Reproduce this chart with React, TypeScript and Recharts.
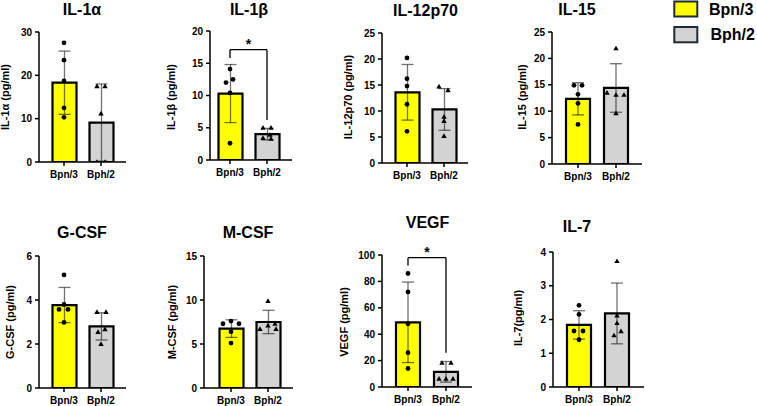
import React from 'react';
import { ComposedChart, Bar, Cell, ErrorBar, Scatter, XAxis, YAxis, ReferenceLine } from 'recharts';

// Groups shown on every x axis
const groups = ['Bpn/3', 'Bph/2'];

// IL-1α
const il1aMean = [18.3, 9.1];
const il1aSd = [7.3, 8.9];
const il1aBpn = [27.5, 23.5, 18.7, 12.5, 10.3];
const il1aBph = [17.5, 17.5, 11.2, 0, 0];
const il1aTicks = [0, 10, 20, 30];

// IL-1β
const il1bMean = [10.3, 4.0];
const il1bSd = [4.5, 0.9];
const il1bBpn = [14.1, 12.0, 12.5, 10.4, 2.6];
const il1bBph = [5.0, 5.0, 3.9, 3.4, 3.3];
const il1bTicks = [0, 5, 10, 15, 20];

// IL-12p70
const il12Mean = [13.6, 10.3];
const il12Sd = [5.35, 4.0];
const il12Bpn = [20.2, 16.2, 14.8, 11.3, 6.1];
const il12Bph = [14.7, 14.0, 8.9, 8.1, 5.2];
const il12Ticks = [0, 5, 10, 15, 20, 25];

// IL-15
const il15Mean = [12.35, 14.4];
const il15Sd = [3.05, 4.6];
const il15Bpn = [14.9, 14.9, 13.2, 11.5, 7.5];
const il15Bph = [21.9, 13.5, 13.1, 13.1, 9.6];
const il15Ticks = [0, 5, 10, 15, 20, 25];

// G-CSF
const gcsfMean = [3.77, 2.8];
const gcsfSd = [0.8, 0.62];
const gcsfBpn = [5.14, 3.8, 3.57, 3.57, 2.98];
const gcsfBph = [3.46, 3.46, 2.67, 2.55, 2.0];
const gcsfTicks = [0, 2, 4, 6];

// M-CSF
const mcsfMean = [6.75, 7.5];
const mcsfSd = [1.0, 1.33];
const mcsfBpn = [7.6, 7.3, 7.3, 6.4, 5.1];
const mcsfBph = [9.9, 7.3, 7.1, 6.7, 6.7];
const mcsfTicks = [0, 5, 10, 15];

// VEGF
const vegfMean = [49, 11.5];
const vegfSd = [30.5, 7.8];
const vegfBpn = [86, 72, 48, 26, 14];
const vegfBph = [18.3, 18.3, 6.3, 6.3, 6.3];
const vegfTicks = [0, 20, 40, 60, 80, 100];

// IL-7
const il7Mean = [1.84, 2.18];
const il7Sd = [0.42, 0.9];
const il7Bpn = [2.42, 2.15, 1.66, 1.66, 1.4];
const il7Bph = [3.73, 2.12, 1.9, 1.65, 1.53];
const il7Ticks = [0, 1, 2, 3, 4];

// Significance brackets: bracket height, end of left leg, end of right leg
const il1bBracket = { y: 17.1, left: 15.8, right: 6.2 };
const vegfBracket = { y: 98, left: 92, right: 26 };

type Bracket = { y: number; left: number; right: number };

interface PanelData {
  title: string;
  yLabel: string;
  ticks: number[];
  mean: number[];
  sd: number[];
  bpn: number[];
  bph: number[];
  bracket?: Bracket;
}

const panelData: PanelData[] = [
  { title: 'IL-1α', yLabel: 'IL-1α (pg/ml)', ticks: il1aTicks, mean: il1aMean, sd: il1aSd, bpn: il1aBpn, bph: il1aBph },
  { title: 'IL-1β', yLabel: 'IL-1β (pg/ml)', ticks: il1bTicks, mean: il1bMean, sd: il1bSd, bpn: il1bBpn, bph: il1bBph, bracket: il1bBracket },
  { title: 'IL-12p70', yLabel: 'IL-12p70 (pg/ml)', ticks: il12Ticks, mean: il12Mean, sd: il12Sd, bpn: il12Bpn, bph: il12Bph },
  { title: 'IL-15', yLabel: 'IL-15 (pg/ml)', ticks: il15Ticks, mean: il15Mean, sd: il15Sd, bpn: il15Bpn, bph: il15Bph },
  { title: 'G-CSF', yLabel: 'G-CSF (pg/ml)', ticks: gcsfTicks, mean: gcsfMean, sd: gcsfSd, bpn: gcsfBpn, bph: gcsfBph },
  { title: 'M-CSF', yLabel: 'M-CSF (pg/ml)', ticks: mcsfTicks, mean: mcsfMean, sd: mcsfSd, bpn: mcsfBpn, bph: mcsfBph },
  { title: 'VEGF', yLabel: 'VEGF (pg/ml)', ticks: vegfTicks, mean: vegfMean, sd: vegfSd, bpn: vegfBpn, bph: vegfBph, bracket: vegfBracket },
  { title: 'IL-7', yLabel: 'IL-7(pg/ml)', ticks: il7Ticks, mean: il7Mean, sd: il7Sd, bpn: il7Bpn, bph: il7Bph },
];

// Page layout of each panel: plot-area edges, bar centres, text anchors and point jitter
interface Frame {
  axisX: number; xEnd: number; top: number; bottom: number; c1: number; c2: number;
  titleX: number; titleY: number; labelX: number; labelY: number;
  jitterA: number[]; jitterB: number[];
}

const frames: Frame[] = [
  { axisX: 39, xEnd: 126, top: 32, bottom: 162, c1: 64, c2: 101, titleX: 82, titleY: 10, labelX: 5, labelY: 97, jitterA: [0, 0, 0, 0, 0], jitterB: [-4, 4, 0, -4, 4] },
  { axisX: 210, xEnd: 292, top: 31, bottom: 160, c1: 230, c2: 267, titleX: 249, titleY: 10, labelX: 171, labelY: 97, jitterA: [0, -4, 3, 0, 0], jitterB: [-4, 4, 3, -4, 4] },
  { axisX: 382, xEnd: 468, top: 33, bottom: 163, c1: 407, c2: 444, titleX: 425.5, titleY: 11, labelX: 348, labelY: 97, jitterA: [0, 0, 0, 0, 0], jitterB: [-5, 4, 0, 0, 0] },
  { axisX: 552, xEnd: 642, top: 32, bottom: 164, c1: 578, c2: 616, titleX: 577, titleY: 10, labelX: 522, labelY: 97, jitterA: [-4, 4, 0, 0, 0], jitterB: [0, -9, 0, 8, 0] },
  { axisX: 39, xEnd: 126, top: 256, bottom: 388, c1: 64, c2: 101, titleX: 82, titleY: 233, labelX: 10, labelY: 322, jitterA: [0, 0, -5, 4, 0], jitterB: [-4, 5, 4, -3, 0] },
  { axisX: 204, xEnd: 293, top: 256, bottom: 388, c1: 231, c2: 268, titleX: 248, titleY: 232.5, labelX: 172, labelY: 322, jitterA: [0, -8, 8, 0, 0], jitterB: [0, 7, 0, -8, 8] },
  { axisX: 382, xEnd: 472, top: 255, bottom: 387, c1: 408, c2: 446, titleX: 427.5, titleY: 222.5, labelX: 344, labelY: 322, jitterA: [0, 0, 0, 0, 0], jitterB: [-4, 5, -7, 0, 7] },
  { axisX: 553, xEnd: 644, top: 252, bottom: 387, c1: 579, c2: 617, titleX: 577, titleY: 227, labelX: 518, labelY: 318, jitterA: [0, 0, -5, 4, 0], jitterB: [0, 0, 0, 4, -3] },
];

const FONT = '"Liberation Sans", Arial, sans-serif';
const BAR_FILLS = ['#ffff00', '#d3d3d3'];
const Y_AXIS_W = 30;
const MARGIN_TOP = 20;
const MARGIN_RIGHT = 4;
const X_AXIS_H = 24;

const pointShape = (k: number, f: Frame) => (props: any) => {
  const { cx, cy, payload } = props;
  if (cx == null || cy == null || Number.isNaN(cy)) return <g />;
  const isB = payload && payload.name === groups[1];
  const dx = (isB ? f.jitterB : f.jitterA)[k] ?? 0;
  const x = cx + dx;
  if (isB) {
    return <path d={`M${x},${cy - 2.7} L${x + 2.7},${cy + 2} L${x - 2.7},${cy + 2} Z`} fill="#000" />;
  }
  return <circle cx={x} cy={cy} r={2.4} fill="#000" />;
};

function Panel({ d, f }: { d: PanelData; f: Frame }) {
  const band = f.c2 - f.c1;
  const padLeft = f.c1 - band / 2 - f.axisX;
  const padRight = f.xEnd - f.c2 - band / 2;
  const width = f.xEnd - f.axisX + Y_AXIS_W + MARGIN_RIGHT;
  const height = f.bottom - f.top + MARGIN_TOP + X_AXIS_H;
  const yMax = d.ticks[d.ticks.length - 1];

  const rows = groups.map((g, i) => {
    const pts = i === 0 ? d.bpn : d.bph;
    const row: Record<string, any> = { name: g, mean: d.mean[i], sd: d.sd[i] };
    pts.forEach((v, k) => {
      row['p' + k] = v;
    });
    return row;
  });
  const nPts = Math.max(d.bpn.length, d.bph.length);
  const tickStyle = { fill: '#000', fontSize: 10, fontWeight: 700, fontFamily: FONT };
  const axisStroke = { stroke: '#000', strokeWidth: 1.5 };

  return (
    <>
      <div
        style={{
          position: 'absolute', left: f.titleX, top: f.titleY, transform: 'translate(-50%, -50%)',
          fontSize: 16, fontWeight: 700, lineHeight: 1, whiteSpace: 'nowrap', fontFamily: FONT, color: '#000',
        }}
      >
        {d.title}
      </div>
      <div
        style={{
          position: 'absolute', left: f.labelX, top: f.labelY, transform: 'translate(-50%, -50%) rotate(-90deg)',
          fontSize: 11, fontWeight: 700, lineHeight: 1, whiteSpace: 'nowrap', fontFamily: FONT, color: '#000',
        }}
      >
        {d.yLabel}
      </div>
      <div style={{ position: 'absolute', left: f.axisX - Y_AXIS_W, top: f.top - MARGIN_TOP }}>
        <ComposedChart
          width={width}
          height={height}
          data={rows}
          margin={{ top: MARGIN_TOP, right: MARGIN_RIGHT, bottom: 0, left: 0 }}
          style={{ overflow: 'visible' }}
        >
          <XAxis
            dataKey="name"
            type="category"
            height={X_AXIS_H}
            padding={{ left: padLeft, right: padRight }}
            tickSize={4}
            tickMargin={5}
            interval={0}
            tick={tickStyle}
            axisLine={axisStroke}
            tickLine={axisStroke}
          />
          <YAxis
            type="number"
            domain={[0, yMax]}
            ticks={d.ticks}
            width={Y_AXIS_W}
            tickSize={4}
            tickMargin={3}
            interval={0}
            tick={tickStyle}
            axisLine={axisStroke}
            tickLine={axisStroke}
            allowDataOverflow
          />
          <Bar dataKey="mean" barSize={24} stroke="#000" strokeWidth={2.2} isAnimationActive={false}>
            {rows.map((r, i) => (
              <Cell key={r.name} fill={BAR_FILLS[i]} />
            ))}
            <ErrorBar
              dataKey="sd"
              direction="y"
              width={6}
              stroke="rgba(0,0,0,0.55)"
              strokeWidth={1.3}
              isAnimationActive={false}
            />
          </Bar>
          {Array.from({ length: nPts }, (_, k) => (
            <Scatter
              key={'p' + k}
              dataKey={'p' + k}
              shape={pointShape(k, f)}
              isAnimationActive={false}
            />
          ))}
          {d.bracket && (
            <ReferenceLine
              segment={[{ x: groups[0], y: d.bracket.y }, { x: groups[1], y: d.bracket.y }]}
              stroke="#000"
              strokeWidth={1.3}
              label={{ value: '*', position: 'top', offset: 1, fontSize: 14, fontWeight: 700, fill: '#000', fontFamily: FONT }}
            />
          )}
          {d.bracket && (
            <ReferenceLine
              segment={[{ x: groups[0], y: d.bracket.y }, { x: groups[0], y: d.bracket.left }]}
              stroke="#000"
              strokeWidth={1.3}
            />
          )}
          {d.bracket && (
            <ReferenceLine
              segment={[{ x: groups[1], y: d.bracket.y }, { x: groups[1], y: d.bracket.right }]}
              stroke="#000"
              strokeWidth={1.3}
            />
          )}
        </ComposedChart>
      </div>
    </>
  );
}

function LegendBox() {
  return (
    <svg width={97} height={50} style={{ position: 'absolute', left: 660, top: 0 }}>
      <rect x={14.3} y={1.5} width={23} height={15} fill={BAR_FILLS[0]} stroke="#1c2b36" strokeWidth={2} />
      <rect x={14.3} y={27} width={23} height={15.3} fill={BAR_FILLS[1]} stroke="#1c2b36" strokeWidth={2} />
      <text x={49} y={14.6} fontSize={16} fontWeight={700} fontFamily={FONT} fill="#000">
        {groups[0]}
      </text>
      <text x={50.5} y={39.8} fontSize={16} fontWeight={700} fontFamily={FONT} fill="#000">
        {groups[1]}
      </text>
    </svg>
  );
}

export default function App() {
  return (
    <div
      style={{
        position: 'absolute', left: 0, top: 0, width: 757, height: 406, background: '#fff',
        overflow: 'hidden', fontFamily: FONT,
      }}
    >
      {panelData.map((d, i) => (
        <Panel key={d.title} d={d} f={frames[i]} />
      ))}
      <LegendBox />
    </div>
  );
}
